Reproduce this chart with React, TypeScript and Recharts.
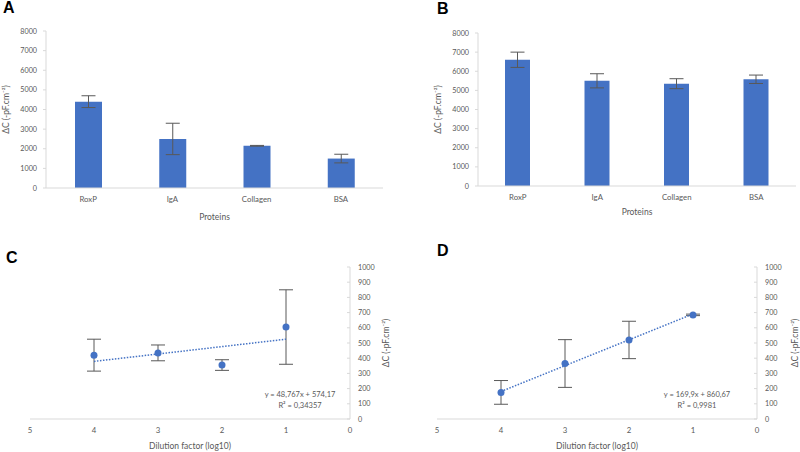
import React from 'react'
import {
  BarChart,
  Bar,
  XAxis,
  YAxis,
  ErrorBar,
  ScatterChart,
  Scatter,
  Label,
} from 'recharts'

const FONT = 'Lato, "Open Sans", sans-serif'
const TEXT = '#595959'
const AXIS = '#d9d9d9'
const BLUE = '#4472C4'
const ERR = '#595959'

// Panels A and B: capacitance change per protein
const proteins = ['RoxP', 'IgA', 'Collagen', 'BSA']
const capacitanceA = [4400, 2500, 2150, 1500]
const errorA = [300, 800, 20, 220]
const capacitanceB = [6600, 5500, 5350, 5580]
const errorB = [400, 370, 260, 220]
const barTicks = [0, 1000, 2000, 3000, 4000, 5000, 6000, 7000, 8000]

// Panels C and D: dilution series
const dilution = [4, 3, 2, 1]
const capacitanceC = [420, 435, 355, 605]
const errorC = [105, 52, 35, 245]
const capacitanceD = [175, 365, 520, 685]
const errorD = [78, 157, 123, 5]
const dilutionTicks = [0, 1, 2, 3, 4, 5]
const scatterTicks = [0, 100, 200, 300, 400, 500, 600, 700, 800, 900, 1000]

// trendline end points (linear fit as drawn on the plot)
const trendX = [4, 1]
const trendC = [379, 525]
const trendD = [181, 691]

const Y_TITLE = 'ΔC (-pF.cm⁻²)'

const title =
  (text: string, dx: number, dy: number, angle = 0) =>
  (props: any) => {
    const vb = props.viewBox
    const cx = vb.x + vb.width / 2 + dx
    const cy = vb.y + vb.height / 2 + dy
    return (
      <text
        x={cx}
        y={cy}
        textAnchor="middle"
        dominantBaseline="central"
        fontSize={8.5}
        fill={TEXT}
        transform={angle ? `rotate(${angle} ${cx} ${cy})` : undefined}
      >
        {text}
      </text>
    )
  }

// right-hand axis ticks: small tick mark inside the plot, label outside
const rightTick = (props: any) => {
  const axisX = props.x - 8
  return (
    <g>
      <line x1={axisX - 3} x2={axisX} y1={props.y} y2={props.y} stroke={AXIS} />
      <text x={props.x} y={props.y} dominantBaseline="central" fontSize={7.2} fill={TEXT}>
        {props.payload.value}
      </text>
    </g>
  )
}

interface BarPanelProps {
  values: number[]
  errors: number[]
  left: number
  margin: { top: number; right: number; bottom: number; left: number }
  yAxisWidth: number
  barSize: number
  yTitleDx: number
  xTitleDy: number
}

function BarPanel({ values, errors, left, margin, yAxisWidth, barSize, yTitleDx, xTitleDy }: BarPanelProps) {
  const data = proteins.map((name, i) => ({ name, value: values[i], err: errors[i] }))
  return (
    <div style={{ position: 'absolute', left, top: 0 }}>
      <BarChart width={400} height={230} data={data} margin={margin}>
        <XAxis
          dataKey="name"
          height={30}
          axisLine={{ stroke: AXIS }}
          tickLine={false}
          tick={{ fill: TEXT, fontSize: 7.8 }}
        >
          <Label content={title('Proteins', 0, xTitleDy)} />
        </XAxis>
        <YAxis
          width={yAxisWidth}
          domain={[0, 8000]}
          ticks={barTicks}
          interval={0}
          axisLine={{ stroke: AXIS }}
          tickLine={{ stroke: AXIS }}
          tickSize={3}
          tickMargin={6}
          tick={{ fill: TEXT, fontSize: 7.2 }}
        >
          <Label content={title(Y_TITLE, yTitleDx, 0, -90)} />
        </YAxis>
        <Bar dataKey="value" fill={BLUE} barSize={barSize} isAnimationActive={false}>
          <ErrorBar dataKey="err" width={7} stroke={ERR} strokeWidth={1} />
        </Bar>
      </BarChart>
    </div>
  )
}

interface ScatterPanelProps {
  values: number[]
  errors: number[]
  trend: number[]
  left: number
  margin: { top: number; right: number; bottom: number; left: number }
  yTitleDx: number
}

function ScatterPanel({ values, errors, trend, left, margin, yTitleDx }: ScatterPanelProps) {
  const points = dilution.map((x, i) => ({ x, y: values[i], err: errors[i] }))
  const line = trendX.map((x, i) => ({ x, y: trend[i] }))
  return (
    <div style={{ position: 'absolute', left, top: 230 }}>
      <ScatterChart width={400} height={222} margin={margin}>
        <XAxis
          type="number"
          dataKey="x"
          domain={[0, 5]}
          ticks={dilutionTicks}
          reversed
          height={20}
          axisLine={{ stroke: AXIS }}
          tickLine={false}
          tick={{ fill: TEXT, fontSize: 7.8 }}
        >
          <Label content={title('Dilution factor (log10)', 0, 17)} />
        </XAxis>
        <YAxis
          type="number"
          dataKey="y"
          orientation="right"
          width={40}
          domain={[0, 1000]}
          ticks={scatterTicks}
          interval={0}
          axisLine={{ stroke: AXIS }}
          tickLine={false}
          tickSize={0}
          tickMargin={8}
          tick={rightTick}
        >
          <Label content={title(Y_TITLE, yTitleDx, 0, -90)} />
        </YAxis>
        <Scatter
          data={line}
          line={{ stroke: BLUE, strokeWidth: 1.5, strokeDasharray: '1.5 1.5' }}
          shape={() => <g />}
          isAnimationActive={false}
        />
        <Scatter
          data={points}
          fill={BLUE}
          shape={(p: any) => <circle cx={p.cx} cy={p.cy} r={3.5} fill={BLUE} />}
          isAnimationActive={false}
        >
          <ErrorBar dataKey="err" direction="y" width={7} stroke={ERR} strokeWidth={1} />
        </Scatter>
      </ScatterChart>
    </div>
  )
}

const letterStyle: React.CSSProperties = {
  position: 'absolute',
  fontFamily: 'Arial, "Liberation Sans", sans-serif',
  fontWeight: 'bold',
  fontSize: 16,
  lineHeight: '16px',
  color: '#000',
}

const equationStyle: React.CSSProperties = {
  position: 'absolute',
  width: 120,
  textAlign: 'center',
  fontSize: 7.5,
  lineHeight: '11px',
  color: TEXT,
}

export default function App() {
  return (
    <div
      style={{
        position: 'absolute',
        left: 0,
        top: 0,
        width: 800,
        height: 452,
        background: '#fff',
        fontFamily: FONT,
        overflow: 'hidden',
      }}
    >
      <BarPanel
        values={capacitanceA}
        errors={errorA}
        left={0}
        margin={{ top: 31, right: 17, bottom: 12, left: 0 }}
        yAxisWidth={46}
        barSize={27}
        yTitleDx={-17}
        xTitleDy={14}
      />
      <BarPanel
        values={capacitanceB}
        errors={errorB}
        left={400}
        margin={{ top: 33, right: 4, bottom: 14, left: 0 }}
        yAxisWidth={78}
        barSize={25}
        yTitleDx={-1}
        xTitleDy={11}
      />
      <ScatterPanel
        values={capacitanceC}
        errors={errorC}
        trend={trendC}
        left={0}
        margin={{ top: 37, right: 10, bottom: 13, left: 30 }}
        yTitleDx={16}
      />
      <ScatterPanel
        values={capacitanceD}
        errors={errorD}
        trend={trendD}
        left={400}
        margin={{ top: 37, right: 3, bottom: 13, left: 37 }}
        yTitleDx={18}
      />
      <div style={{ ...letterStyle, left: 3, top: 0 }}>A</div>
      <div style={{ ...letterStyle, left: 437, top: 1 }}>B</div>
      <div style={{ ...letterStyle, left: 6, top: 250 }}>C</div>
      <div style={{ ...letterStyle, left: 437, top: 243 }}>D</div>
      <div style={{ ...equationStyle, left: 240, top: 389 }}>
        y = 48,767x + 574,17
        <br />R² = 0,34357
      </div>
      <div style={{ ...equationStyle, left: 637, top: 389 }}>
        y = 169,9x + 860,67
        <br />R² = 0,9981
      </div>
    </div>
  )
}
